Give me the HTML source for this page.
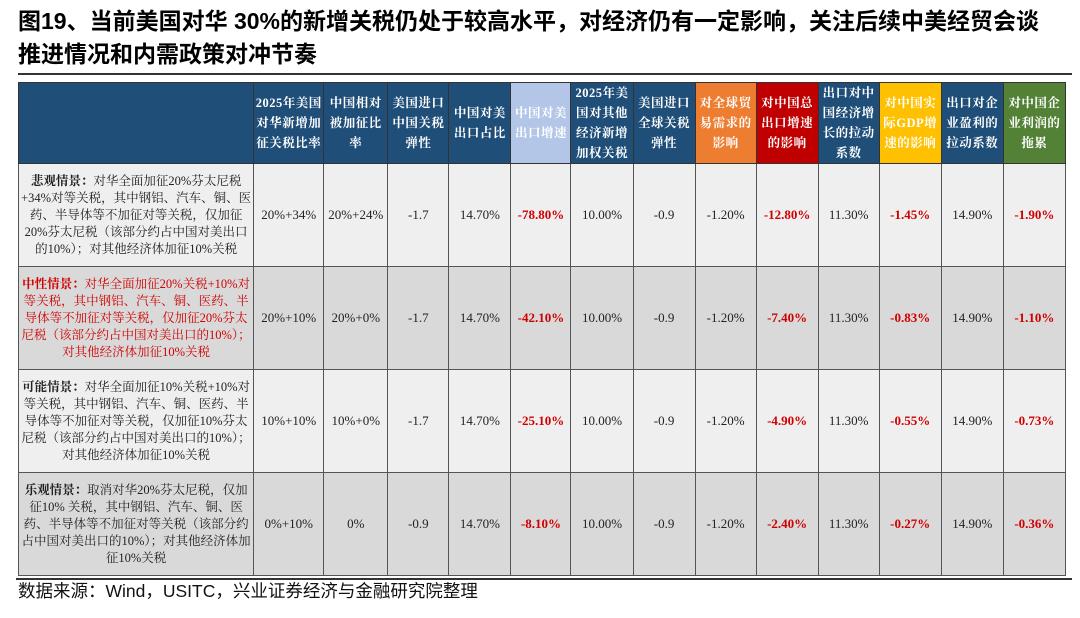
<!DOCTYPE html>
<html><head><meta charset="utf-8">
<style>
body{margin:0;width:1080px;height:618px;background:#fff;position:relative;overflow:hidden;font-family:"Liberation Serif","Noto Serif CJK SC",serif;}
.title{position:absolute;left:18px;top:5px;width:1070px;white-space:nowrap;font-family:"Liberation Sans","Noto Sans CJK SC",sans-serif;font-weight:bold;font-size:23px;line-height:33px;color:#000;}
.rule{position:absolute;left:18px;width:1054px;background:#333;}
table{position:absolute;left:18px;top:82px;border-collapse:collapse;table-layout:fixed;width:1048px;}
td,th{border:1.5px solid #555;text-align:center;vertical-align:middle;padding:0 1px;font-size:13px;color:#222;overflow:hidden;}
th{color:#fff;font-weight:bold;background:#1f4e79;font-size:12.5px;line-height:20px;letter-spacing:0.5px;height:64px;border-color:#333;}
td.desc{font-size:12.5px;line-height:17px;padding:0 2px;}
tr.r td{height:102px;}
.g1 td{background:#efefef;}.g2 td{background:#d9d9d9;}
.red{color:#d00000;font-weight:bold;}
.src{position:absolute;left:18px;font-family:"Liberation Sans","Noto Sans CJK SC",sans-serif;font-size:17.5px;color:#111;}
</style></head><body>
<div class="title">图19、当前美国对华 30%的新增关税仍处于较高水平，对经济仍有一定影响，关注后续中美经贸会谈<br>推进情况和内需政策对冲节奏</div>
<div class="rule" style="top:73px;height:2px"></div>
<table>
<colgroup><col style="width:235px"><col style="width:70px"><col style="width:64px"><col style="width:61px"><col style="width:62px"><col style="width:60px"><col style="width:62px"><col style="width:62px"><col style="width:61px"><col style="width:62px"><col style="width:61px"><col style="width:62px"><col style="width:62px"><col style="width:62px"></colgroup>
<tr>
<th></th>
<th>2025年美国对华新增加征关税比率</th>
<th>中国相对被加征比率</th>
<th>美国进口中国关税弹性</th>
<th>中国对美出口占比</th>
<th style="background:#b4c6e7">中国对美出口增速</th>
<th>2025年美国对其他经济新增加权关税</th>
<th>美国进口全球关税弹性</th>
<th style="background:#ed7d31">对全球贸易需求的影响</th>
<th style="background:#c00000">对中国总出口增速的影响</th>
<th>出口对中国经济增长的拉动系数</th>
<th style="background:#ffc000">对中国实际GDP增速的影响</th>
<th>出口对企业盈利的拉动系数</th>
<th style="background:#538135">对中国企业利润的拖累</th>
</tr>
<tr class="r g1">
<td class="desc"><b>悲观情景：</b>对华全面加征20%芬太尼税+34%对等关税，其中钢铝、汽车、铜、医药、半导体等不加征对等关税，仅加征20%芬太尼税（该部分约占中国对美出口的10%）；对其他经济体加征10%关税</td>
<td>20%+34%</td><td>20%+24%</td><td>-1.7</td><td>14.70%</td><td class="red">-78.80%</td><td>10.00%</td><td>-0.9</td><td>-1.20%</td><td class="red">-12.80%</td><td>11.30%</td><td class="red">-1.45%</td><td>14.90%</td><td class="red">-1.90%</td></tr>
<tr class="r g2">
<td class="desc" style="color:#d00000"><b>中性情景：</b>对华全面加征20%关税+10%对等关税，其中钢铝、汽车、铜、医药、半导体等不加征对等关税，仅加征20%芬太尼税（该部分约占中国对美出口的10%）；对其他经济体加征10%关税</td>
<td>20%+10%</td><td>20%+0%</td><td>-1.7</td><td>14.70%</td><td class="red">-42.10%</td><td>10.00%</td><td>-0.9</td><td>-1.20%</td><td class="red">-7.40%</td><td>11.30%</td><td class="red">-0.83%</td><td>14.90%</td><td class="red">-1.10%</td></tr>
<tr class="r g1">
<td class="desc"><b>可能情景：</b>对华全面加征10%关税+10%对等关税，其中钢铝、汽车、铜、医药、半导体等不加征对等关税，仅加征10%芬太尼税（该部分约占中国对美出口的10%）；对其他经济体加征10%关税</td>
<td>10%+10%</td><td>10%+0%</td><td>-1.7</td><td>14.70%</td><td class="red">-25.10%</td><td>10.00%</td><td>-0.9</td><td>-1.20%</td><td class="red">-4.90%</td><td>11.30%</td><td class="red">-0.55%</td><td>14.90%</td><td class="red">-0.73%</td></tr>
<tr class="r g2">
<td class="desc"><b>乐观情景：</b>取消对华20%芬太尼税，仅加征10% 关税，其中钢铝、汽车、铜、医药、半导体等不加征对等关税（该部分约占中国对美出口的10%）；对其他经济体加征10%关税</td>
<td>0%+10%</td><td>0%</td><td>-0.9</td><td>14.70%</td><td class="red">-8.10%</td><td>10.00%</td><td>-0.9</td><td>-1.20%</td><td class="red">-2.40%</td><td>11.30%</td><td class="red">-0.27%</td><td>14.90%</td><td class="red">-0.36%</td></tr>
</table>
<div class="rule" style="top:578px;height:1.5px;left:16px;width:1056px"></div>
<div class="src" style="top:578px">数据来源：Wind，USITC，兴业证券经济与金融研究院整理</div>
</body></html>
